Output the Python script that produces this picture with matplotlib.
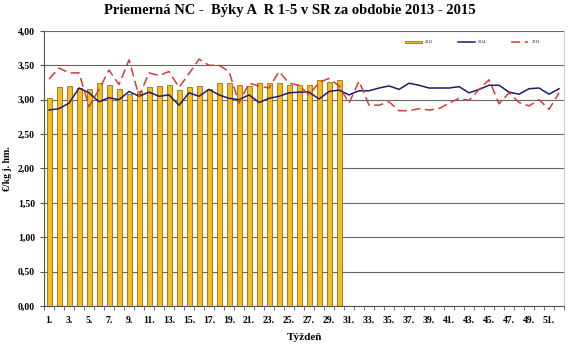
import numpy as np
import matplotlib
matplotlib.use("Agg")
import matplotlib.pyplot as plt
from matplotlib.ticker import MultipleLocator, FuncFormatter

# weeks 1..52
weeks = np.arange(1, 53)

# 2015 (bars, only weeks 1-30 available)
y2015 = [3.02, 3.18, 3.20, 3.17, 3.15, 3.25, 3.21, 3.15, 3.08, 3.12,
         3.18, 3.20, 3.21, 3.14, 3.19, 3.20, 3.15, 3.25, 3.24, 3.21,
         3.20, 3.25, 3.25, 3.25, 3.22, 3.21, 3.22, 3.29, 3.26, 3.29]

# 2014 (solid line)
y2014 = [2.85, 2.87, 2.95, 3.17, 3.10, 2.97, 3.03, 3.00, 3.12, 3.05,
         3.11, 3.05, 3.07, 2.92, 3.10, 3.05, 3.15, 3.07, 3.02, 3.00,
         3.07, 2.96, 3.02, 3.05, 3.10, 3.11, 3.11, 3.01, 3.12, 3.14,
         3.07, 3.13, 3.13, 3.17, 3.20, 3.15, 3.24, 3.21, 3.17, 3.17,
         3.17, 3.19, 3.10, 3.15, 3.21, 3.21, 3.11, 3.08, 3.16, 3.17,
         3.08, 3.16]

# 2013 (dashed line)
y2013 = [3.30, 3.46, 3.39, 3.39, 2.90, 3.15, 3.43, 3.22, 3.58, 3.05,
         3.39, 3.35, 3.41, 3.18, 3.38, 3.59, 3.50, 3.50, 3.41, 2.95,
         3.24, 3.20, 3.17, 3.41, 3.24, 3.21, 3.07, 3.25, 3.31, 3.20,
         2.95, 3.27, 2.92, 2.92, 2.97, 2.84, 2.84, 2.87, 2.85, 2.87,
         2.95, 3.02, 2.99, 3.15, 3.29, 2.94, 3.10, 2.96, 2.91, 3.00,
         2.86, 3.10]

serif = "Liberation Serif"

fig = plt.figure(figsize=(5.8, 3.54), dpi=100)
ax = fig.add_axes([0.0759, 0.1356, 0.8966, 0.777])

x = np.arange(len(weeks))
bars = ax.bar(x[:len(y2015)], y2015, width=0.5, color="#F5BC1F",
              edgecolor="#7A5E00", linewidth=0.5, label="2015", zorder=2)
l14, = ax.plot(x, y2014, color="#1F1A6E", linewidth=1.1, label="2014", zorder=3)
l13, = ax.plot(x, y2013, color="#D6393C", linewidth=1.1, dashes=(6, 3),
               label="2013", zorder=4)

ax.set_xlim(-0.5, len(weeks) - 0.5)
ax.set_ylim(0, 4)
ax.yaxis.set_major_locator(MultipleLocator(0.5))
ax.yaxis.set_major_formatter(FuncFormatter(lambda v, p: f"{v:.2f}".replace(".", ",")))
ax.grid(axis="y", color="#666666", linewidth=0.8, zorder=0)
ax.set_axisbelow(True)

ax.set_xticks(x[::2])
ax.set_xticklabels([f"{w}." for w in weeks[::2]])
ax.set_xticks(np.arange(-0.5, len(weeks)), minor=True)
ax.tick_params(axis="x", which="major", length=0, pad=7)
ax.tick_params(axis="x", which="minor", length=3, color="#555555")
ax.tick_params(axis="y", length=3, color="#555555")

for lab in ax.get_xticklabels() + ax.get_yticklabels():
    lab.set_fontfamily(serif)
    lab.set_fontweight("bold")
    lab.set_fontsize(7)

ax.spines["top"].set_visible(False)
ax.spines["right"].set_color("#CCCCCC")
ax.spines["left"].set_color("#555555")
ax.spines["bottom"].set_color("#555555")

ax.set_xlabel("Týždeň", fontfamily=serif, fontweight="bold", fontsize=8, labelpad=6)
ax.set_ylabel("€/kg j. hm.", fontfamily=serif, fontweight="bold", fontsize=7, labelpad=4)

fig.suptitle("Priemerná NC -  Býky A  R 1-5 v SR za obdobie 2013 - 2015",
             fontfamily=serif, fontweight="bold", fontsize=10.5, y=0.99)

ax.legend(handles=[bars, l14, l13], loc="upper right", bbox_to_anchor=(0.96, 0.98),
          ncol=3, frameon=False, prop={"family": serif, "size": 3},
          handlelength=4, handleheight=0.5, columnspacing=6)

fig.savefig("out.png", dpi=100)
